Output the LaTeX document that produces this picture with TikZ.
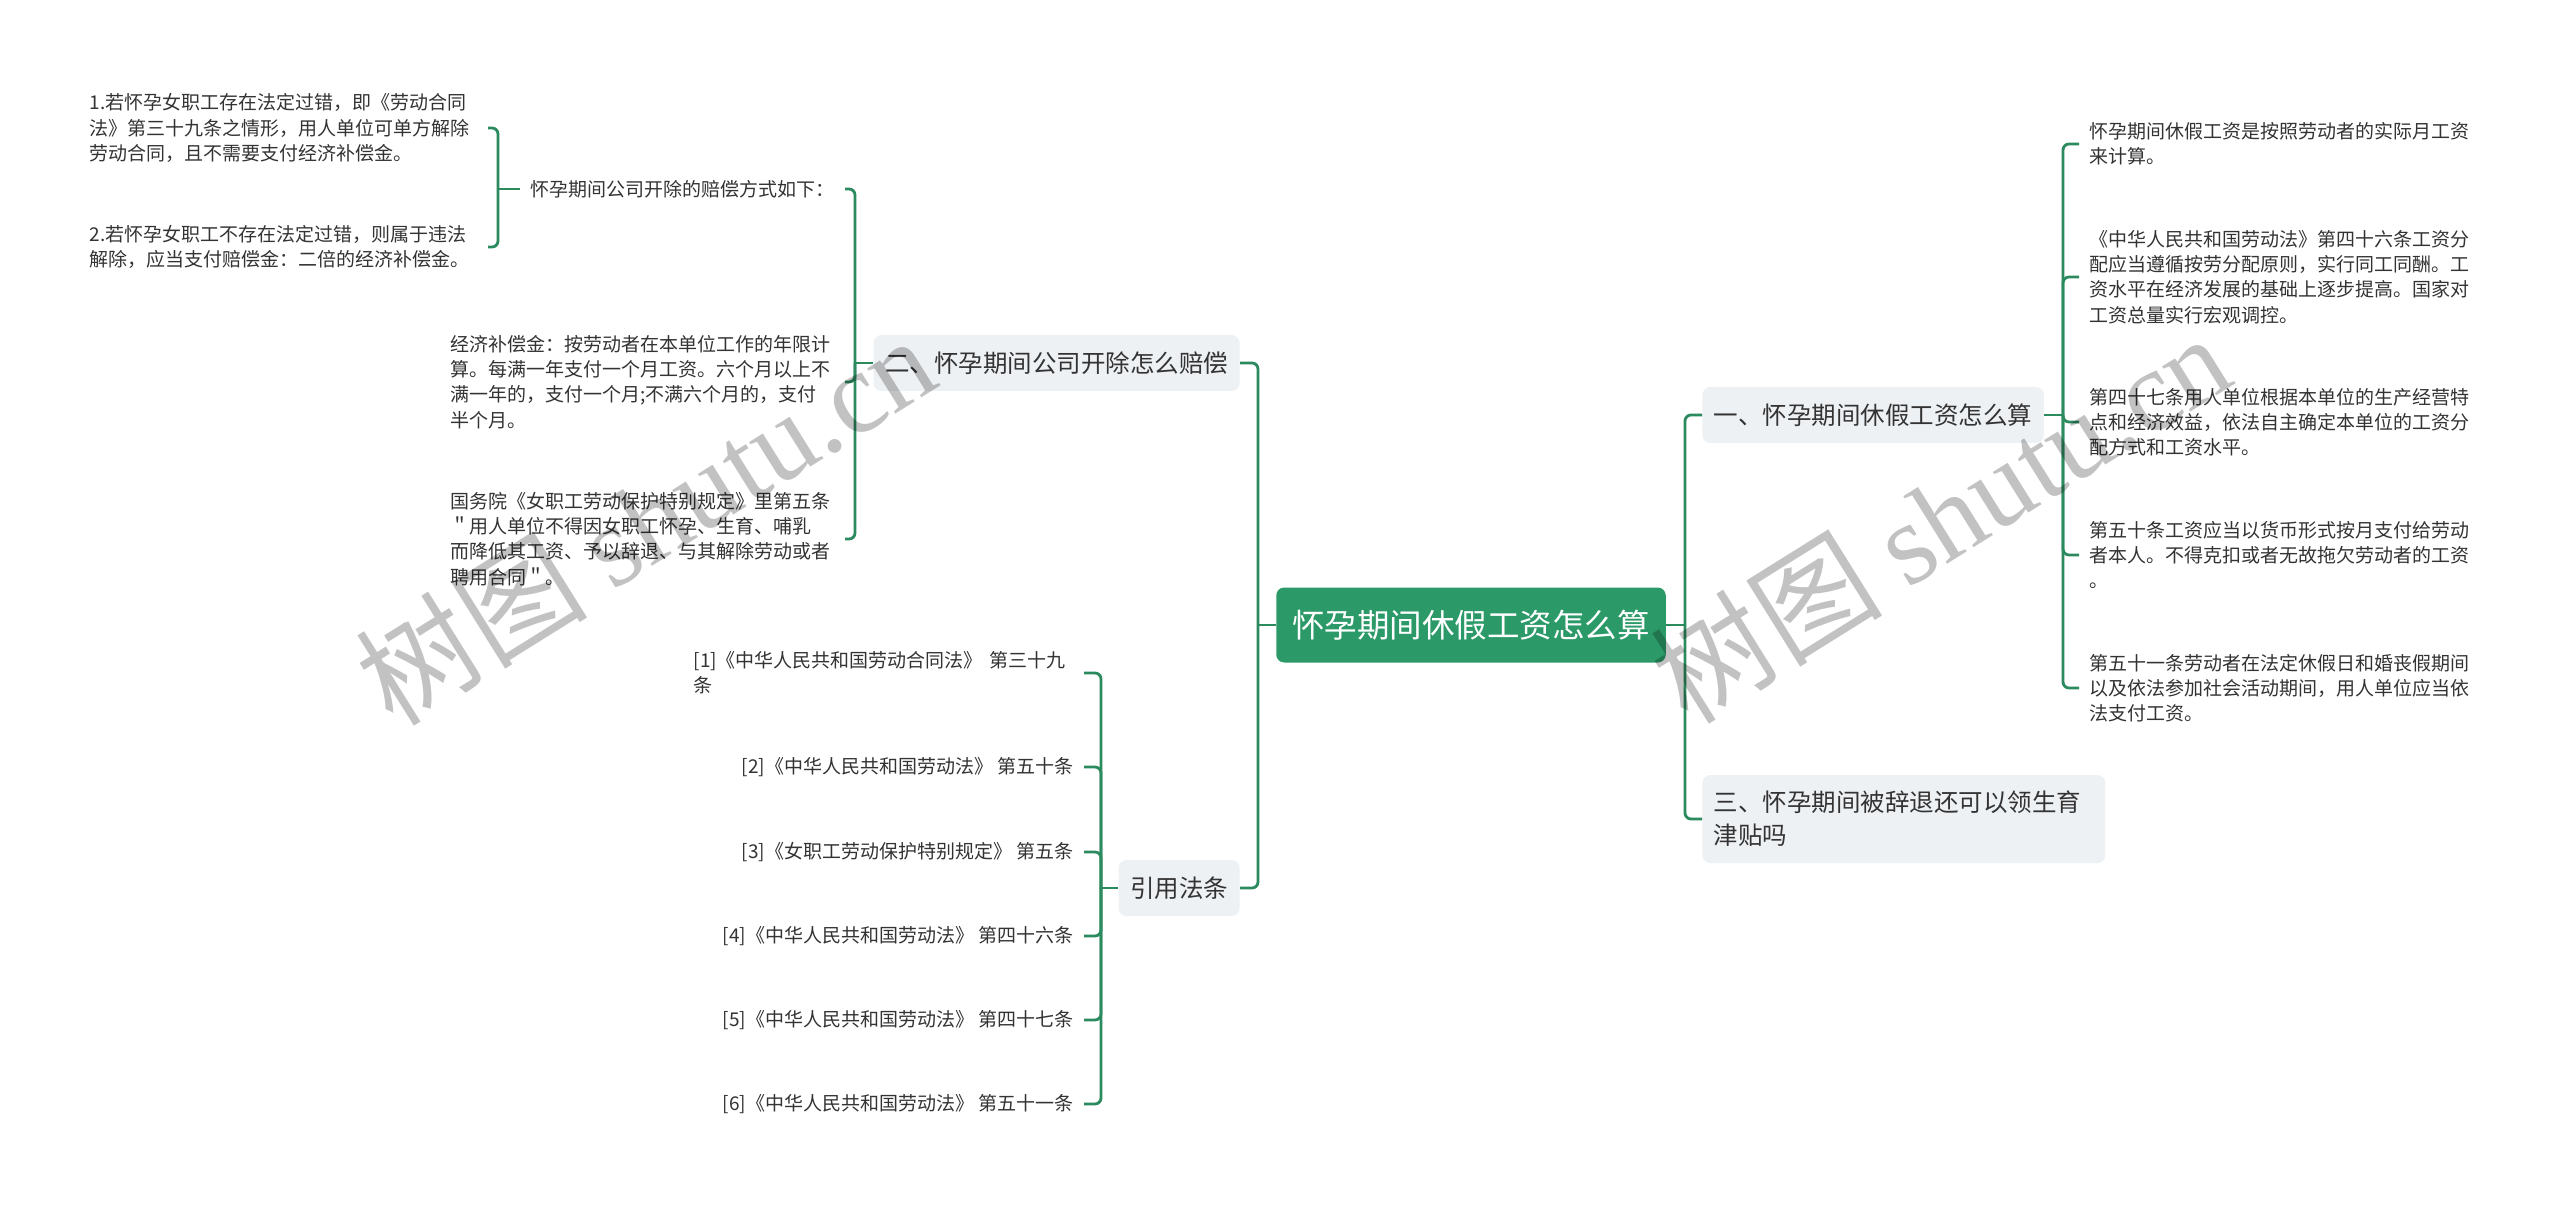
\documentclass[tikz,border=0pt]{standalone}
\usepackage{fontspec}
\setmainfont{Noto Sans CJK SC}
\newfontfamily\wmfont{Liberation Serif}
\usepackage{tikz}

\definecolor{linegreen}{HTML}{2B8A5E}
\definecolor{rootgreen}{HTML}{2C9A68}
\definecolor{boxgray}{HTML}{EEF1F4}
\definecolor{txtgray}{HTML}{333333}

\begin{document}
\begin{tikzpicture}[
    x=0.5pt, y=-0.5pt,
    link/.style={draw=linegreen, line width=1.4pt, rounded corners=3pt},
    root/.style={fill=rootgreen, text=white, rounded corners=4pt, font=\fontsize{16.25pt}{20pt}\selectfont, inner xsep=8pt, minimum height=37.5pt},
    branch/.style={fill=boxgray, text=txtgray, rounded corners=4pt, font=\fontsize{12.25pt}{16.5pt}\selectfont, inner xsep=5.75pt, minimum height=28pt},
    leaf/.style={text=txtgray, font=\fontsize{9.5pt}{12.6pt}\selectfont, align=left, inner xsep=5pt},
    wm/.style={text=black, opacity=0.24, rotate=32, font=\fontsize{58pt}{58pt}\selectfont}
]

% Fondo
\fill[white] (0,0) rectangle (2560,1208);

% Nodo central
\node[root] (root) at (1471,625) {怀孕期间休假工资怎么算};

% Ramas
\node[branch, anchor=west] (salary) at (1702,415) {一、怀孕期间休假工资怎么算};
\node[branch, anchor=west, text width=190pt, align=left, minimum height=44pt] (allowance) at (1702,819)
{三、怀孕期间被辞退还可以领生育\\津贴吗};
\node[branch, anchor=east] (dismiss) at (1240,363) {二、怀孕期间公司开除怎么赔偿};
\node[branch, anchor=east] (laws) at (1240,888) {引用法条};

% Hojas de "一"
\node[leaf, anchor=west, text width=190pt] (s1) at (2079,144)
{怀孕期间休假工资是按照劳动者的实际月工资\\来计算。};
\node[leaf, anchor=west, text width=190pt] (s2) at (2079,277)
{《中华人民共和国劳动法》第四十六条工资分\\配应当遵循按劳分配原则，实行同工同酬。工\\资水平在经济发展的基础上逐步提高。国家对\\工资总量实行宏观调控。};
\node[leaf, anchor=west, text width=190pt] (s3) at (2079,422)
{第四十七条用人单位根据本单位的生产经营特\\点和经济效益，依法自主确定本单位的工资分\\配方式和工资水平。};
\node[leaf, anchor=west, text width=190pt] (s4) at (2079,555)
{第五十条工资应当以货币形式按月支付给劳动\\者本人。不得克扣或者无故拖欠劳动者的工资\\。};
\node[leaf, anchor=west, text width=190pt] (s5) at (2079,688)
{第五十一条劳动者在法定休假日和婚丧假期间\\以及依法参加社会活动期间，用人单位应当依\\法支付工资。};

% Hojas de "二"
\node[leaf, anchor=east] (d1) at (845,189) {怀孕期间公司开除的赔偿方式如下：};
\node[leaf, anchor=east, text width=192pt] (d2) at (845,382)
{经济补偿金：按劳动者在本单位工作的年限计\\算。每满一年支付一个月工资。六个月以上不\\满一年的，支付一个月;不满六个月的，支付\\半个月。};
\node[leaf, anchor=east, text width=192pt] (d3) at (845,539)
{国务院《女职工劳动保护特别规定》里第五条\\＂用人单位不得因女职工怀孕、生育、哺乳\\而降低其工资、予以辞退、与其解除劳动或者\\聘用合同＂。};
\node[leaf, anchor=east, text width=194pt] (e1) at (488,128)
{1.若怀孕女职工存在法定过错，即《劳动合同\\法》第三十九条之情形，用人单位可单方解除\\劳动合同，且不需要支付经济补偿金。};
\node[leaf, anchor=east, text width=194pt] (e2) at (488,247)
{2.若怀孕女职工不存在法定过错，则属于违法\\解除，应当支付赔偿金：二倍的经济补偿金。};

% Hojas de "引用法条"
\node[leaf, anchor=east, text width=190pt] (f1) at (1084,673)
{[1]《中华人民共和国劳动合同法》 第三十九\\条};
\node[leaf, anchor=east] (f2) at (1084,767) {[2]《中华人民共和国劳动法》 第五十条};
\node[leaf, anchor=east] (f3) at (1084,852) {[3]《女职工劳动保护特别规定》 第五条};
\node[leaf, anchor=east] (f4) at (1084,936) {[4]《中华人民共和国劳动法》 第四十六条};
\node[leaf, anchor=east] (f5) at (1084,1020) {[5]《中华人民共和国劳动法》 第四十七条};
\node[leaf, anchor=east] (f6) at (1084,1104) {[6]《中华人民共和国劳动法》 第五十一条};

% Conexiones
\coordinate (busR) at (1685,625);
\coordinate (busL) at (1258,625);
\coordinate (busS) at (2063,415);
\coordinate (busD) at (855,363);
\coordinate (busE) at (498,189);
\coordinate (busF) at (1101,888);

\draw[link] (root.east) -- (busR);
\draw[link] (busR) |- (salary.west);
\draw[link] (busR) |- (allowance.west);
\draw[link] (root.west) -- (busL);
\draw[link] (busL) |- (dismiss.east);
\draw[link] (busL) |- (laws.east);

\draw[link] (salary.east) -- (busS);
\foreach \n in {s1,s2,s3,s4,s5}
    \draw[link] (busS) |- (\n.west);

\draw[link] (dismiss.west) -- (busD);
\foreach \n in {d1,d2,d3}
    \draw[link] (busD) |- (\n.east);

\draw[link] (d1.west) -- (busE);
\foreach \n in {e1,e2}
    \draw[link] (busE) |- (\n.east);

\draw[link] (laws.west) -- (busF);
\foreach \n in {f1,f2,f3,f4,f5,f6}
    \draw[link] (busF) |- (\n.east);

% Marca de agua
\node[wm] (wmL) at (645,519) {树图 {\wmfont shutu.cn}};
\node[wm] (wmR) at (1940,517) {树图 {\wmfont shutu.cn}};

\end{tikzpicture}
\end{document}
